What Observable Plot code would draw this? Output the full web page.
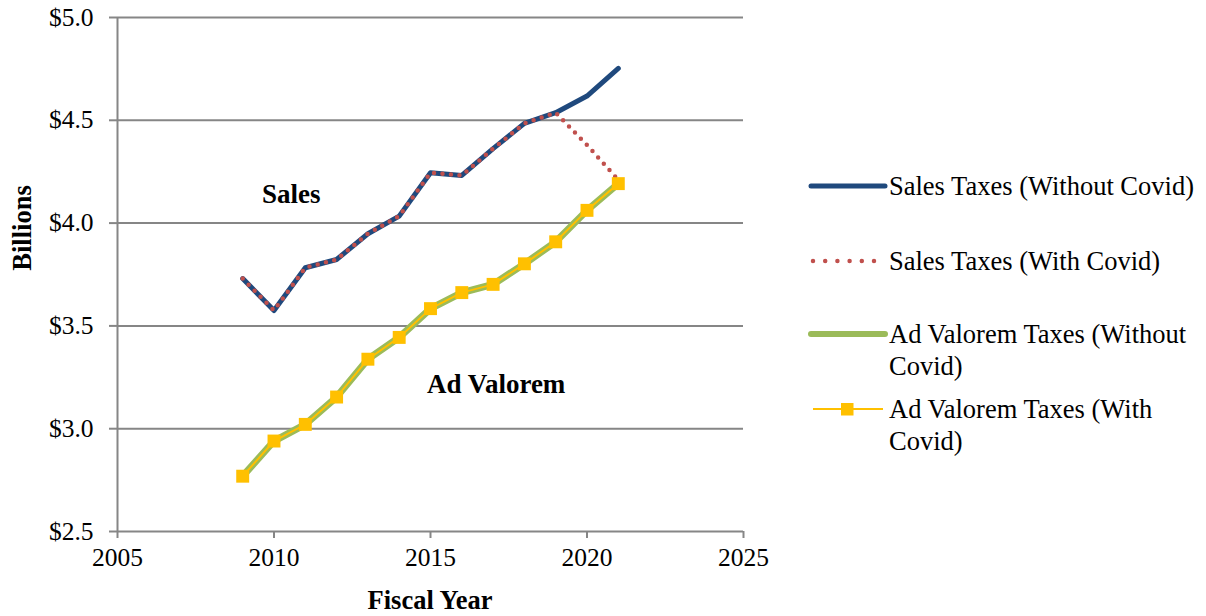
<!DOCTYPE html>
<html><head><meta charset="utf-8">
<script src="https://cdn.jsdelivr.net/npm/d3@7"></script>
<script src="https://cdn.jsdelivr.net/npm/@observablehq/plot@0.6"></script>
<style>
body{margin:0;background:#fff;font-family:"Liberation Serif","Times New Roman",serif;}
#wrap{position:relative;width:1206px;height:616px;overflow:hidden;}
#wrap svg{display:block;}
.ttl{position:absolute;font-weight:bold;font-size:26.5px;color:#000;white-space:nowrap;}
#ylab{left:22px;top:228px;transform:translate(-50%,-50%) rotate(-90deg);}
#xlab{left:430px;top:600px;transform:translate(-50%,-50%);}
.leg{position:absolute;left:808px;font-size:26.5px;line-height:32px;color:#000;}
.leg .sw{position:absolute;left:0;width:80px;height:16px;}
.leg .tx{position:absolute;left:81px;white-space:nowrap;}
</style></head><body>
<div id="wrap">
  <div class="ttl" id="ylab">Billions</div>
  <div class="ttl" id="xlab">Fiscal Year</div>
  <div id="legend"></div>
</div>
<script>
const years = [2009,2010,2011,2012,2013,2014,2015,2016,2017,2018,2019,2020,2021];
const salesWithout = [3.73,3.575,3.783,3.823,3.948,4.034,4.245,4.232,4.362,4.485,4.537,4.618,4.752];
const salesWith    = [3.73,3.575,3.783,3.823,3.948,4.034,4.245,4.232,4.362,4.485,4.537,4.38,4.21];
const adValWithout = [2.769,2.94,3.021,3.154,3.338,3.444,3.584,3.662,3.702,3.802,3.909,4.062,4.192];
const adValWith    = [2.769,2.94,3.021,3.154,3.338,3.444,3.584,3.662,3.702,3.802,3.909,4.062,4.192];
const seriesNames = ["Sales Taxes (Without Covid)","Sales Taxes (With Covid)","Ad Valorem Taxes (Without Covid)","Ad Valorem Taxes (With Covid)"];
const seriesColors = ["#1F497D","#C0504D","#9BBB59","#FFC000"];
const yTicks = [2.5,3.0,3.5,4.0,4.5,5.0];
const xTicks = [2005,2010,2015,2020,2025];
const labelText = ["Sales","Ad Valorem"];
const labelYear = [2010.55,2017.1];
const labelValue = [4.14,3.215];

const toRows = vals => years.map((yr,i)=>({year:yr,value:vals[i]}));
const rowsSW = toRows(salesWithout), rowsSC = toRows(salesWith), rowsAW = toRows(adValWithout), rowsAC = toRows(adValWith);
const labels = labelText.map((t,i)=>({t,x:labelYear[i],y:labelValue[i]}));
const grey = "#868686";

const chart = Plot.plot({
  width:1206, height:616, marginLeft:117, marginRight:463, marginTop:17, marginBottom:85,
  style:{fontFamily:'"Liberation Serif","Times New Roman",serif', fontSize:"25px", color:"#000", background:"transparent", overflow:"visible"},
  x:{domain:[2005,2025]}, y:{domain:[2.5,5.0]},
  marks:[
    Plot.gridY(yTicks,{stroke:grey, strokeOpacity:1, strokeWidth:2}),
    Plot.ruleX([2005],{stroke:grey, strokeWidth:2}),
    Plot.axisY(yTicks,{tickFormat:d=>"$"+d.toFixed(1), tickSize:8, tickPadding:16, stroke:grey, strokeWidth:2, fill:"#000", label:null, fontSize:25.5}),
    Plot.axisX(xTicks,{tickFormat:d=>String(d), tickSize:7, tickPadding:9, stroke:grey, strokeWidth:2, fill:"#000", label:null, fontSize:25.5}),
    Plot.line(rowsSW,{x:"year",y:"value",stroke:seriesColors[0],strokeWidth:5,strokeLinejoin:"round",strokeLinecap:"round"}),
    Plot.line(rowsSC,{x:"year",y:"value",stroke:seriesColors[1],strokeWidth:4.5,strokeDasharray:"0 8.5",strokeLinecap:"round",strokeLinejoin:"round"}),
    Plot.line(rowsAW,{x:"year",y:"value",stroke:seriesColors[2],strokeWidth:7,strokeLinejoin:"round",strokeLinecap:"round"}),
    Plot.line(rowsAC,{x:"year",y:"value",stroke:seriesColors[3],strokeWidth:2}),
    Plot.dot(rowsAC,{x:"year",y:"value",symbol:"square",r:7.3,fill:seriesColors[3],stroke:"none"}),
    Plot.text(labels,{x:"x",y:"y",text:"t",fontWeight:"bold",fontSize:27,fill:"#000"})
  ]
});
document.getElementById("wrap").prepend(chart);

// legend
const leg = document.getElementById("legend");
const legY = [186,261,334,409];
const legLines = [[seriesNames[0]],[seriesNames[1]],["Ad Valorem Taxes (Without","Covid)"],["Ad Valorem Taxes (With","Covid)"]];
const swatch = [
  `<line x1="3" y1="8" x2="77" y2="8" stroke="${seriesColors[0]}" stroke-width="5" stroke-linecap="round"/>`,
  `<line x1="5" y1="8" x2="70" y2="8" stroke="${seriesColors[1]}" stroke-width="4.5" stroke-dasharray="0 12.2" stroke-linecap="round"/>`,
  `<line x1="3" y1="8" x2="77" y2="8" stroke="${seriesColors[2]}" stroke-width="6" stroke-linecap="round"/>`,
  `<line x1="5" y1="8" x2="75" y2="8" stroke="${seriesColors[3]}" stroke-width="2"/><rect x="33" y="2" width="12.5" height="12.5" fill="${seriesColors[3]}"/>`
];
legY.forEach((y,i)=>{
  const d = document.createElement("div");
  d.className="leg"; d.style.top=(y-16)+"px";
  d.innerHTML = `<svg class="sw" style="top:8px" viewBox="0 0 80 16" width="80" height="16">${swatch[i]}</svg><div class="tx">${legLines[i].join("<br>")}</div>`;
  leg.appendChild(d);
});
</script>
</body></html>
